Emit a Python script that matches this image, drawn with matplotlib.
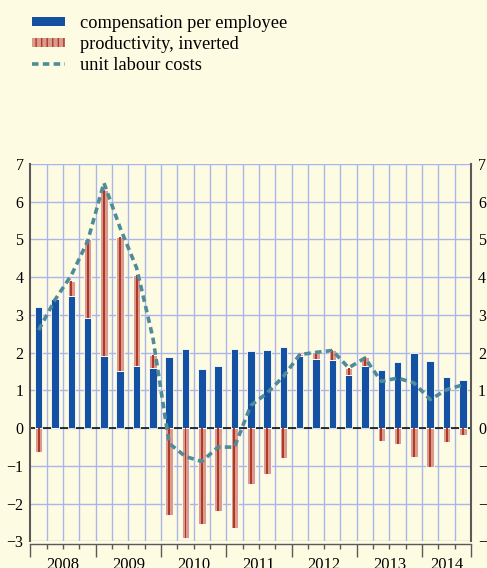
import matplotlib.pyplot as plt
import matplotlib.patches as mpatches
from matplotlib.lines import Line2D
from matplotlib.ticker import FixedLocator
import matplotlib.transforms as mtransforms
import numpy as np

plt.rcParams['font.family'] = ['Liberation Serif', 'DejaVu Serif']

years = ['2008', '2009', '2010', '2011', '2012', '2013', '2014']
quarters_per_year = [4, 4, 4, 4, 4, 4, 3]

# compensation per employee (blue bars)
comp = [3.21, 3.42, 3.50, 2.92, 1.92, 1.52, 1.65, 1.60,
        1.88, 2.10, 1.58, 1.65, 2.09, 2.05, 2.07, 2.16,
        1.91, 1.83, 1.82, 1.40, 1.65, 1.54, 1.75, 1.99,
        1.78, 1.37, 1.29]
# productivity, inverted (red bars)
prod = [-0.62, 0.00, 0.41, 2.08, 4.38, 3.54, 2.42, 0.33,
        -2.31, -2.90, -2.55, -2.19, -2.63, -1.49, -1.22, -0.78,
        0.05, 0.19, 0.24, 0.20, 0.25, -0.33, -0.43, -0.76,
        -1.02, -0.37, -0.19]
# unit labour costs (dashed line)
ulc = [2.60, 3.40, 4.05, 4.95, 6.50, 5.30, 4.25, 2.40,
       -0.40, -0.75, -0.88, -0.50, -0.50, 0.60, 0.93, 1.37,
       1.95, 2.01, 2.06, 1.60, 1.86, 1.24, 1.33, 1.20,
       0.76, 1.02, 1.15]

bg = '#fefbe3'
blue = '#1551a3'
salmon = '#d99b8b'
darkred = '#b03828'
teal = '#4f8b98'
grid_c = '#aab6e8'
spine_c = '#5a5a5a'

n = len(comp)
x = np.arange(n)
comp = np.array(comp)
prod = np.array(prod)
prod_bottom = np.where(prod > 0, comp, 0)

fig = plt.figure(figsize=(4.87, 5.68), dpi=100, facecolor=bg)
ax = fig.add_axes([0.0626, 0.0467, 0.9046, 0.6646], facecolor=bg)

ax.axhline(0, color='black', lw=1.1, zorder=2)
ax.bar(x, comp, width=0.46, color=blue, edgecolor='white', lw=0.6, zorder=3)
ax.bar(x, prod, bottom=prod_bottom, width=0.46, color=salmon,
       edgecolor='white', lw=0.6, zorder=3)
ax.bar(x, prod, bottom=prod_bottom, width=0.12, color=darkred, lw=0, zorder=4)
ax.plot(x, ulc, color=teal, lw=2.6, linestyle=(0, (1.8, 1.2)), zorder=5)

ax.set_xlim(-0.5, n - 0.5)
ax.set_ylim(-3, 7)
ax.set_yticks(range(-3, 8))
ax.yaxis.grid(True, color=grid_c, lw=1)
ax.set_axisbelow(True)

# quarter gridlines and ticks
bounds = np.arange(n + 1) - 0.5
for b in bounds[1:-1]:
    ax.axvline(b, color=grid_c, lw=1, zorder=0)
year_starts = np.cumsum([0] + quarters_per_year[:-1]) - 0.5
ax.xaxis.set_major_locator(FixedLocator(list(year_starts) + [n - 0.5]))
ax.xaxis.set_minor_locator(FixedLocator(bounds))
ax.tick_params(axis='x', which='major', length=9, width=1, color=spine_c,
               labelbottom=False)
ax.tick_params(axis='x', which='minor', length=3.5, width=1, color=spine_c)

ax.tick_params(axis='y', length=0, labelsize=11.5, pad=5,
               labelright=True, right=False)

ax.spines['top'].set_visible(False)
ax.spines['left'].set_color(spine_c)
ax.spines['left'].set_linewidth(1.5)
ax.spines['right'].set_color(spine_c)
ax.spines['right'].set_linewidth(1.5)
ax.spines['bottom'].set_position(('outward', 2))
ax.spines['bottom'].set_color(spine_c)
ax.spines['bottom'].set_linewidth(1)

trans = mtransforms.blended_transform_factory(ax.transData, ax.transAxes)
start = 0
for yr, q in zip(years, quarters_per_year):
    ax.text(start + (q - 1) / 2, -0.04, yr, transform=trans, ha='center',
            va='top', fontsize=12, clip_on=False)
    start += q

handles = [
    mpatches.Patch(facecolor=blue, edgecolor='none'),
    mpatches.Patch(facecolor=salmon, edgecolor=darkred, hatch='|||', lw=0),
    Line2D([0], [0], color=teal, lw=2.6, linestyle=(0, (1.8, 1.2))),
]
labels = ['compensation per employee', 'productivity, inverted',
          'unit labour costs']
fig.legend(handles, labels, loc='upper left', bbox_to_anchor=(0.05, 0.986),
           frameon=False, fontsize=13.2, handlelength=1.8, handleheight=0.35,
           handletextpad=0.85, labelspacing=0.2, borderaxespad=0)

fig.savefig('out.png', dpi=100, facecolor=bg)
